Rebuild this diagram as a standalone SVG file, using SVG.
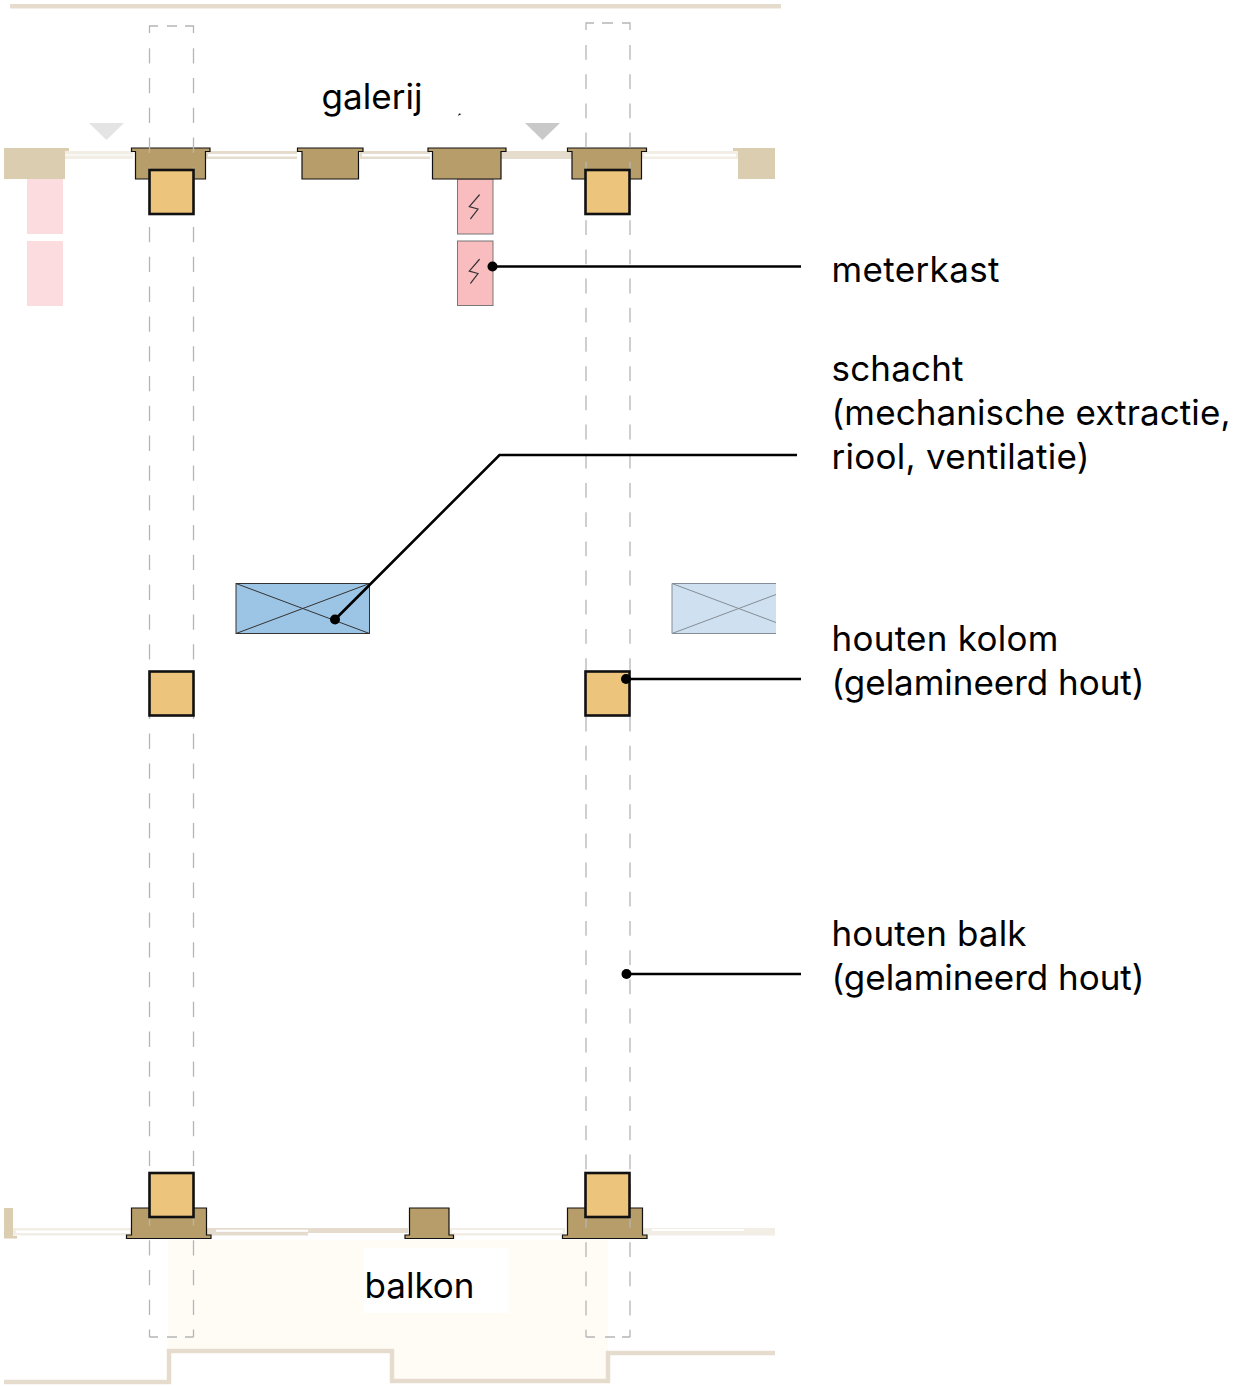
<svg xmlns="http://www.w3.org/2000/svg" width="1239" height="1386" viewBox="0 0 1239 1386">
<style>
.t{font-family:"Inter","Liberation Sans",sans-serif;font-size:35px;fill:#000}
.tim{fill:#b79d69;stroke:#111;stroke-width:1.2}
.col{fill:#edc47b;stroke:#111;stroke-width:2.6}
.dash{fill:none;stroke:#b5b5b5;stroke-width:1.3}
.dl{stroke-dasharray:15.300 14.500}
.dr{stroke-dasharray:14.800 14.400}
.wa{fill:#e5dccd}.wl{fill:#f2eee5}.wh{fill:#fff}
.blk{fill:#dbcdb0}
.pink{fill:#f9bdc0;stroke:#777;stroke-width:1}
.gp{fill:#fcdcde}
.lead{fill:none;stroke:#000;stroke-width:2.6}
.z{fill:none;stroke:#333;stroke-width:1.2;stroke-linecap:round}
</style>
<g id="balcony">
<path d="M168 1240H608V1381H392V1351H168Z" fill="#fffcf6"/>
<rect x="364" y="1248" width="145" height="65" fill="#fff"/>
<path d="M4 1382H169V1351H392V1381H608V1353H775" fill="none" stroke="#e5dccd" stroke-width="4.500"/>
</g>
<g id="walls">
<rect x="10" y="4" width="771" height="4.500" fill="#e5dccd"/>
<rect class="wl" x="65" y="151" width="68" height="8"/><rect class="wh" x="65" y="154" width="68" height="2" opacity=".5"/>
<rect class="wa" x="206" y="151" width="91" height="8"/><rect class="wh" x="208" y="154" width="89" height="2.500"/>
<rect class="wa" x="360" y="151" width="70" height="8"/><rect class="wh" x="362" y="154" width="68" height="2.500"/>
<rect class="wa" x="500" y="151" width="72" height="8"/>
<rect class="wl" x="642" y="151" width="96" height="8"/><rect class="wh" x="644" y="154" width="92" height="2.500"/>
<path class="blk" d="M4 148H69V151H65V179H4Z"/>
<path class="blk" d="M733 148H775V179H738V151H733Z"/>
<path d="M4 1208H13V1236H17V1238.500H4Z" class="blk"/>
<rect class="wl" x="13" y="1228" width="118" height="7.500"/><rect class="wh" x="16" y="1230.500" width="114" height="2.500"/>
<rect class="wa" x="206" y="1228" width="102" height="7.500"/><rect class="wh" x="216" y="1229.800" width="92" height="2"/>
<rect class="wa" x="308" y="1228" width="100" height="5"/>
<rect class="wl" x="449" y="1228" width="116" height="7.500"/><rect class="wh" x="452" y="1230" width="111" height="3"/>
<rect class="wl" x="642" y="1228" width="133" height="7.500"/><rect class="wh" x="652" y="1229" width="92" height="2"/>
</g>
<g id="triangles">
<path d="M89 123H124L106.500 140Z" fill="#e4e4e4"/>
<path d="M525 123H560L542.500 140Z" fill="#c9c9c9"/>
</g>
<g id="ghost-meterkast"><rect class="gp" x="27" y="179" width="36" height="55"/><rect class="gp" x="27" y="241" width="36" height="65"/></g>
<g id="meterkast">
<rect class="pink" x="457.500" y="179" width="35.500" height="55"/>
<rect class="pink" x="457.500" y="241" width="35.500" height="64.500"/>
<path class="z" d="M479.300 195L469.300 206.700L478 209L470.700 218.700"/>
<path class="z" d="M479.300 259.500L469.300 271.200L478 273.500L470.700 283.200"/>
</g>
<g id="galerij-columns">
<path class="tim" d="M131.500 148H210V151.500H205.500V179H135.500V151.500H131.500Z"/>
<path class="tim" d="M297.500 148H363V151.500H358.500V179H302V151.500H297.500Z"/>
<path class="tim" d="M428 148H506V151.500H501V179H432.500V151.500H428Z"/>
<path class="tim" d="M567.500 148H646.500V151.500H641.500V179H572V151.500H567.500Z"/>
</g>
<g id="balkon-columns">
<path class="tim" d="M131.500 1208H206.500V1235H211V1238.500H126.500V1235H131.500Z"/>
<path class="tim" d="M409.500 1208H449V1235H453.500V1238.500H405V1235H409.500Z"/>
<path class="tim" d="M567.500 1208H642.500V1235H647V1238.500H562.500V1235H567.500Z"/>
</g>
<g id="beam-left">
<path class="dash dl" d="M149.500 48.200V1337M193.500 48.200V1337"/>
<path class="dash" d="M149.500 33V26H158M167 26H177M185 26H193.500V33M149.500 1337H158M167 1337H177M185 1337H193.500"/>
</g>
<g id="beam-right">
<path class="dash dr" d="M586 45V1337M630 45V1337"/>
<path class="dash" d="M586 30V23H594M602 23H613M622 23H630V30M586 1337H595M605 1337H615M622 1337H630"/>
</g>
<g id="kolommen">
<rect class="col" x="149.500" y="170" width="44" height="44"/>
<rect class="col" x="585.500" y="170" width="44" height="44"/>
<rect class="col" x="149.500" y="671.500" width="44" height="44"/>
<rect class="col" x="585.500" y="671.500" width="44" height="44"/>
<rect class="col" x="149.500" y="1173" width="44" height="44"/>
<rect class="col" x="585.500" y="1173" width="44" height="44"/>
</g>
<g id="schacht">
<rect x="236" y="583.500" width="133.500" height="50" fill="#9cc4e4" stroke="#333" stroke-width="1"/>
<path d="M236 583.500L369.500 633.500M236 633.500L369.500 583.500" fill="none" stroke="#333" stroke-width="1"/>
</g>
<g id="schacht-ghost">
<rect x="672" y="583.500" width="104" height="50" fill="#cfe1f0"/>
<path d="M776 583.500H672V633.500H776M672 583.500L776 622.500M672 633.500L776 594.500" fill="none" stroke="#858d96" stroke-width="1"/>
</g>
<g id="connectors">
<path class="lead" d="M492.500 266.500H801"/><circle cx="492.500" cy="266.500" r="5"/>
<path class="lead" d="M335 619.500L499.500 455H797"/><circle cx="335" cy="619.500" r="5"/>
<path class="lead" d="M626 679H801"/><circle cx="626" cy="679" r="5"/>
<path class="lead" d="M626.500 974H801"/><circle cx="626.500" cy="974" r="5"/>
<path d="M458 116L459 113.500L461.500 114L459.500 115Z"/>
</g>
<g id="labels">
<text class="t" x="321.500" y="109" textLength="101">galerij</text>
<text class="t" x="364.500" y="1298" textLength="110">balkon</text>
<text class="t" x="831.500" y="282" textLength="168">meterkast</text>
<text class="t" x="831.500" y="381" textLength="132">schacht</text>
<text class="t" x="831.500" y="425" textLength="399">(mechanische extractie,</text>
<text class="t" x="831.500" y="469" textLength="258">riool, ventilatie)</text>
<text class="t" x="831.500" y="651" textLength="227">houten kolom</text>
<text class="t" x="831.500" y="695" textLength="313">(gelamineerd hout)</text>
<text class="t" x="831.500" y="946" textLength="195">houten balk</text>
<text class="t" x="831.500" y="990" textLength="313">(gelamineerd hout)</text>
</g>
</svg>
